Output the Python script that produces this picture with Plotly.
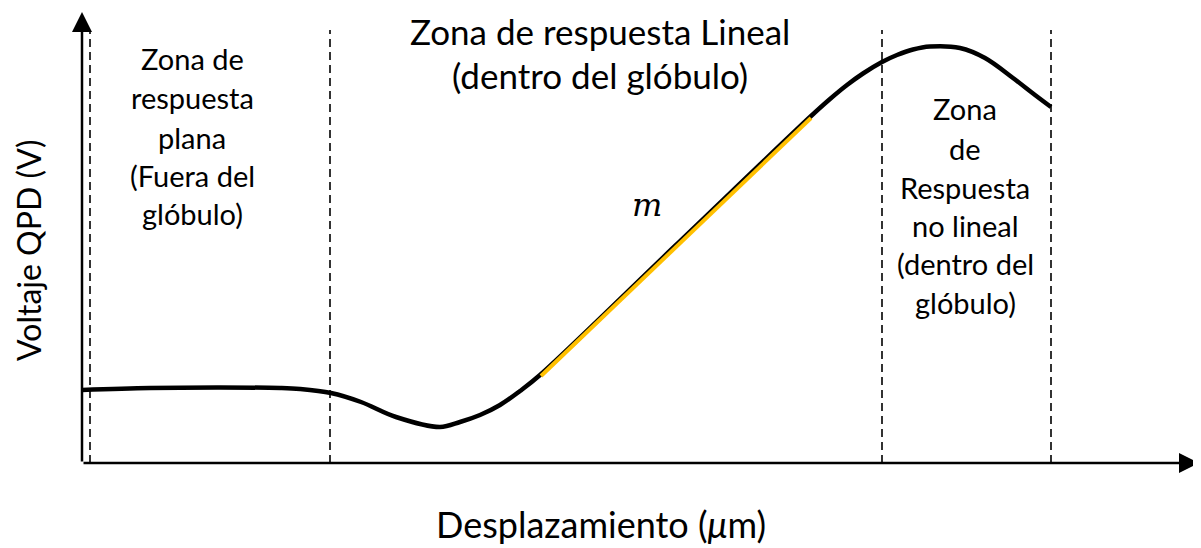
import plotly.graph_objects as go

# curve (arbitrary units, origin at the axes corner)
curve_x = [0, 68, 138, 198, 218, 249, 279, 314, 358, 378, 398, 418, 438, 458,
           593, 728, 748, 765, 781, 800, 815, 831, 848, 878, 903, 931, 953, 969]
curve_y = [73, 75, 75.5, 75, 74, 70, 61, 46, 36, 41, 48, 58, 72, 88,
           217, 346, 364, 378, 389.5, 401, 408, 413.5, 416.5, 415, 405, 385, 368, 356]

# linear zone (slope m)
lin_x = [458, 728]
lin_y = [88, 346]

# zone boundaries
zone_x = [8, 248, 800, 969]
zone_top = 433

left_lines = ["Zona de", "respuesta", "plana", "(Fuera del", "glóbulo)"]
right_lines = ["Zona", "de", "Respuesta", "no lineal", "(dentro del", "glóbulo)"]
top_lines = ["Zona de respuesta Lineal", "(dentro del glóbulo)"]

X_MAX = 1119
Y_MAX = 455
font_main = "Lato, 'Open Sans', sans-serif"

fig = go.Figure()

for xv in zone_x:
    fig.add_shape(type="line", x0=xv, x1=xv, y0=0, y1=zone_top, xref="x", yref="y",
                  line=dict(color="black", width=1.6, dash="8px,5px"))

fig.add_trace(go.Scatter(x=curve_x, y=curve_y, mode="lines",
                         line=dict(color="black", width=4.5, shape="spline", smoothing=1.0),
                         hoverinfo="skip"))
fig.add_trace(go.Scatter(x=[v + 1 for v in lin_x], y=[v - 1 for v in lin_y], mode="lines",
                         line=dict(color="#FFC000", width=4), hoverinfo="skip"))

# axes with arrows
fig.add_annotation(x=1117, y=0, ax=0, ay=0, xref="x", yref="y", axref="x", ayref="y",
                   showarrow=True, arrowhead=2, arrowsize=1.6, arrowwidth=2.5,
                   arrowcolor="black", text="")
fig.add_annotation(x=0, y=451, ax=0, ay=0, xref="x", yref="y", axref="x", ayref="y",
                   showarrow=True, arrowhead=2, arrowsize=1.6, arrowwidth=2.5,
                   arrowcolor="black", text="")

# texts
left_y = [405, 366, 326, 288, 250]
for t, yv in zip(left_lines, left_y):
    fig.add_annotation(x=110, y=yv, text=t, showarrow=False,
                       font=dict(family=font_main, size=29, color="black"))

right_y = [355, 315, 276, 238, 200, 161]
for t, yv in zip(right_lines, right_y):
    fig.add_annotation(x=883, y=yv, text=t, showarrow=False,
                       font=dict(family=font_main, size=29, color="black"))

top_y = [432, 388]
for t, yv in zip(top_lines, top_y):
    fig.add_annotation(x=518, y=yv, text=t, showarrow=False,
                       font=dict(family=font_main, size=35, color="black"))

fig.add_annotation(x=565, y=258, text="<i>m</i>", showarrow=False,
                   font=dict(family="'DejaVu Serif', serif", size=32, color="black"))

fig.add_annotation(x=519 / X_MAX, y=-61 / Y_MAX, xref="paper", yref="paper",
                   xanchor="center", yanchor="middle",
                   text="Desplazamiento (<i>μ</i>m)", showarrow=False,
                   font=dict(family=font_main, size=36, color="black"))
fig.add_annotation(x=-54 / X_MAX, y=213 / Y_MAX, xref="paper", yref="paper",
                   xanchor="center", yanchor="middle",
                   text="Voltaje QPD (V)", showarrow=False, textangle=-90,
                   font=dict(family=font_main, size=32, color="black"))

fig.update_xaxes(range=[0, X_MAX], visible=False, fixedrange=True)
fig.update_yaxes(range=[0, Y_MAX], visible=False, fixedrange=True)
# the page puts the figure 8px in from the window edge
fig.update_layout(width=1201, height=548, margin=dict(l=74, r=8, t=0, b=93),
                  plot_bgcolor="white", paper_bgcolor="white", showlegend=False)

fig.write_html("out.html")
